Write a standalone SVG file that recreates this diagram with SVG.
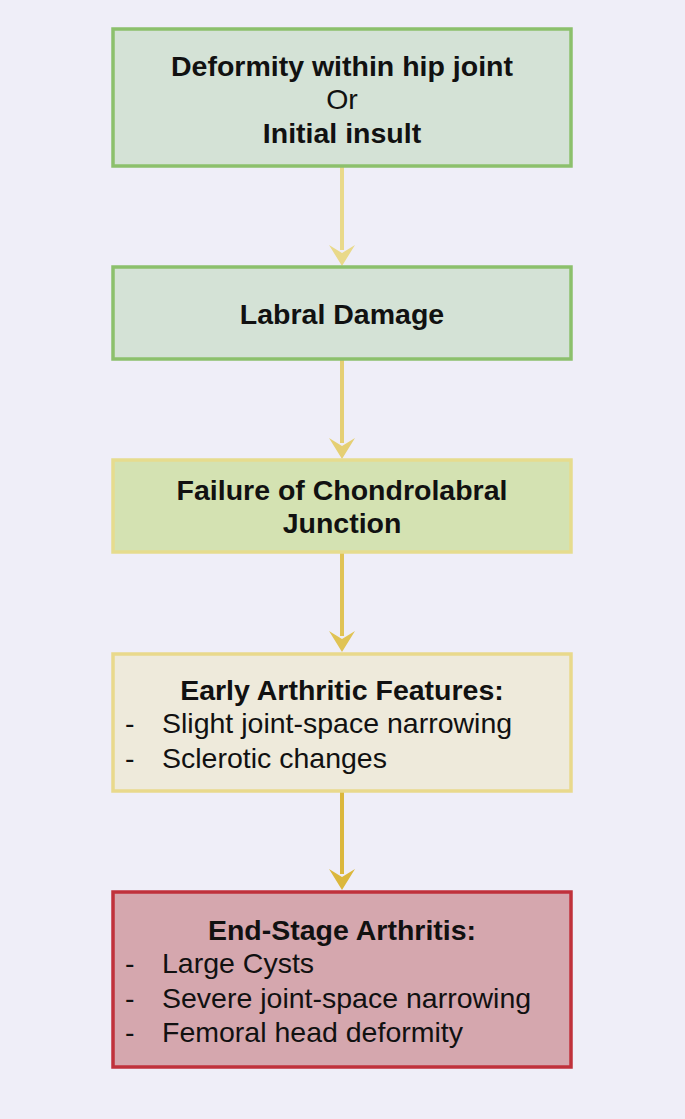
<svg xmlns="http://www.w3.org/2000/svg" width="685" height="1119" viewBox="0 0 685 1119">
<style>
.t{font-family:"Liberation Sans",Arial,sans-serif;font-size:28.5px;fill:#111;}
.b{font-weight:bold;}
.c{text-anchor:middle;}
.box{stroke-width:3.5;}
.con{stroke-width:4;fill:none;}
</style>
<rect width="685" height="1119" fill="#efeef8"/>
<g id="connectors">
<line class="con" x1="342" y1="167" x2="342" y2="250" stroke="#e9d98a"/>
<path d="M329,245 L342,266 L355,245 L342,253 Z" fill="#e9d98a"/>
<line class="con" x1="342" y1="360" x2="342" y2="443" stroke="#e5cf74"/>
<path d="M329,438 L342,459 L355,438 L342,446 Z" fill="#e5cf74"/>
<line class="con" x1="342" y1="553" x2="342" y2="636" stroke="#e0c355"/>
<path d="M329,631 L342,652 L355,631 L342,639 Z" fill="#e0c355"/>
<line class="con" x1="342" y1="792" x2="342" y2="874" stroke="#dbb73c"/>
<path d="M329,869 L342,890 L355,869 L342,877 Z" fill="#dbb73c"/>
</g>
<g id="n1">
<rect class="box" x="113" y="29" width="458" height="137" fill="#d4e2d6" stroke="#8cc06c"/>
<text class="t b c" x="342" y="76">Deformity within hip joint</text>
<text class="t c" x="342" y="109">Or</text>
<text class="t b c" x="342" y="143">Initial insult</text>
</g>
<g id="n2">
<rect class="box" x="113" y="267" width="458" height="92" fill="#d4e2d6" stroke="#8cc06c"/>
<text class="t b c" x="342" y="324">Labral Damage</text>
</g>
<g id="n3">
<rect class="box" x="113" y="460" width="458" height="92" fill="#d4e2b2" stroke="#e6dc8e"/>
<text class="t b c" x="342" y="500">Failure of Chondrolabral</text>
<text class="t b c" x="342" y="533">Junction</text>
</g>
<g id="n4">
<rect class="box" x="113" y="654" width="458" height="137" fill="#eeeadb" stroke="#e9d98c"/>
<text class="t b c" x="342" y="700">Early Arthritic Features:</text>
<text class="t" x="125" y="733">-</text>
<text class="t" x="162" y="733">Slight joint-space narrowing</text>
<text class="t" x="125" y="768">-</text>
<text class="t" x="162" y="768">Sclerotic changes</text>
</g>
<g id="n5">
<rect class="box" x="113" y="892" width="458" height="175" fill="#d5a7ae" stroke="#c0313b"/>
<text class="t b c" x="342" y="940">End-Stage Arthritis:</text>
<text class="t" x="125" y="973">-</text>
<text class="t" x="162" y="973">Large Cysts</text>
<text class="t" x="125" y="1008">-</text>
<text class="t" x="162" y="1008">Severe joint-space narrowing</text>
<text class="t" x="125" y="1042">-</text>
<text class="t" x="162" y="1042">Femoral head deformity</text>
</g>
</svg>
